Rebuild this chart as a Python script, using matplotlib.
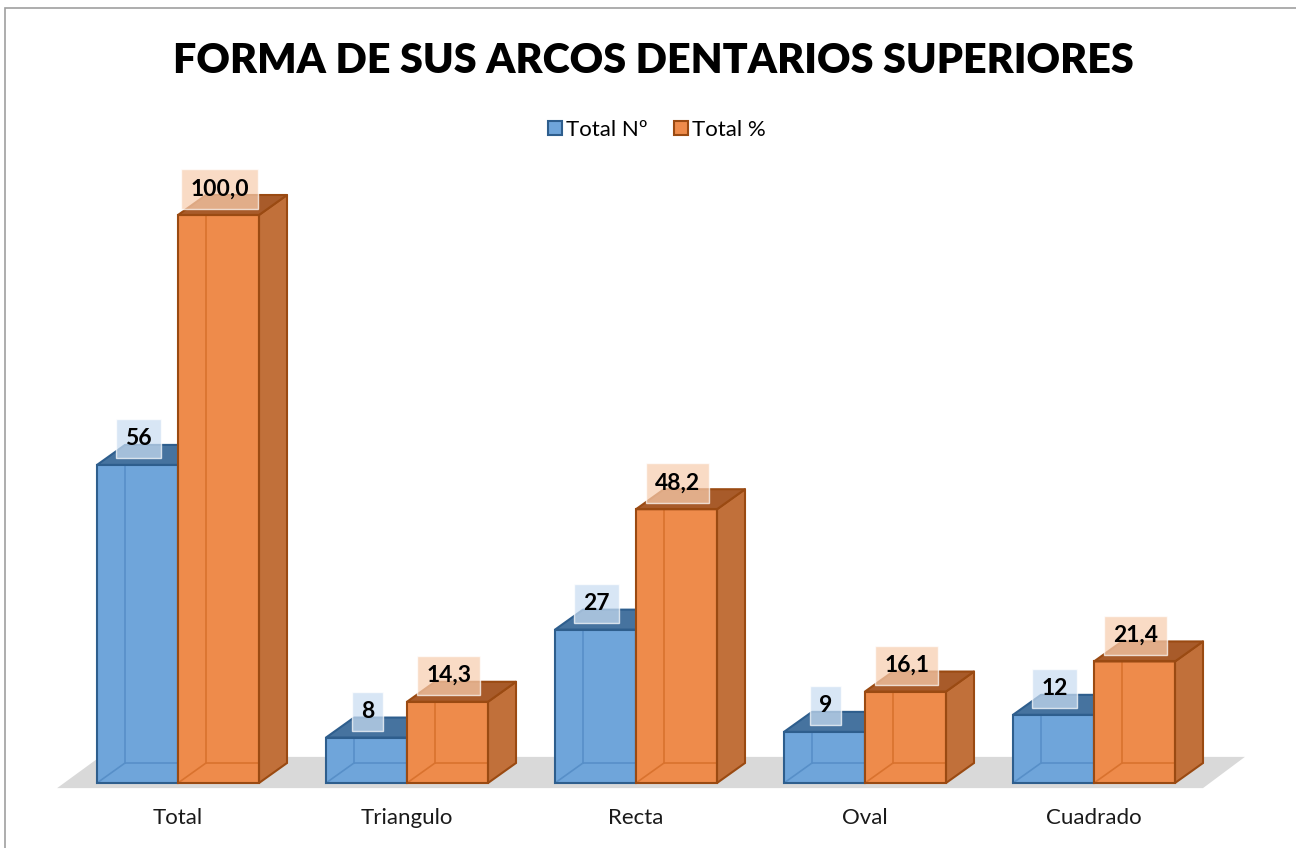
import matplotlib
matplotlib.use("Agg")
import matplotlib.pyplot as plt
from matplotlib.patches import Polygon, Rectangle, Patch
from matplotlib import font_manager as fm

categories = ["Total", "Triangulo", "Recta", "Oval", "Cuadrado"]
total_n = [56, 8, 27, 9, 12]
total_pct = [100.0, 14.3, 48.2, 16.1, 21.4]
series_names = ["Total Nº", "Total %"]
title = "FORMA DE SUS ARCOS DENTARIOS SUPERIORES"

names = {f.name for f in fm.fontManager.ttflist}
body_font = "Lato" if "Lato" in names else "DejaVu Sans"
title_font = body_font

W, H = 1296, 848
fig = plt.figure(figsize=(W / 100, H / 100), dpi=100)
ax = fig.add_axes([0, 0, 1, 1])
# pixel-like mapping: group spacing 229px, 5.68 px per unit
ax.set_xlim((0 - 178) / 229, (W - 178) / 229)
ax.set_ylim((783 - H) / 5.68, 783 / 5.68)
ax.axis("off")

bw = 81 / 229
ddx = 28 / 229
ddy = 20 / 5.68

styles = [
    dict(front="#6FA5DA", top="#46739F", side="#4E7FB0", edge="#2E5E8D", inner="#578FC8", box="#C9DDF2"),
    dict(front="#EE8B4B", top="#A85B2A", side="#C1703A", edge="#9A4A12", inner="#D9722E", box="#F8CDAF"),
]

n = len(categories)
# floor
fl = Polygon([(-0.528, -0.9), (n - 1 + 0.476, -0.9), (n - 1 + 0.659, 4.6), (-0.341, 4.6)],
             closed=True, facecolor="#D9D9D9", edgecolor="none", zorder=1)
ax.add_patch(fl)


def draw_bar(x0, v, st, z):
    x1 = x0 + bw
    front = Rectangle((x0, 0), bw, v, facecolor=st["front"], edgecolor="none", zorder=z)
    ax.add_patch(front)
    # back inner lines (seen through the semi-transparent bar)
    ax.plot([x0 + ddx, x0 + ddx], [ddy, v + ddy], color=st["inner"], lw=1.2, zorder=z + 0.05)
    ax.plot([x0, x0 + ddx, x1 + ddx], [0, ddy, ddy], color=st["inner"], lw=1.2, zorder=z + 0.05)
    top = Polygon([(x0, v), (x1, v), (x1 + ddx, v + ddy), (x0 + ddx, v + ddy)], closed=True,
                  facecolor=st["top"], edgecolor=st["edge"], lw=1.5, zorder=z + 0.1, joinstyle="round")
    side = Polygon([(x1, 0), (x1 + ddx, ddy), (x1 + ddx, v + ddy), (x1, v)], closed=True,
                   facecolor=st["side"], edgecolor=st["edge"], lw=1.5, zorder=z + 0.1, joinstyle="round")
    ax.add_patch(side)
    ax.add_patch(top)
    ax.add_patch(Rectangle((x0, 0), bw, v, facecolor="none", edgecolor=st["edge"], lw=1.5, zorder=z + 0.5))


for i, cat in enumerate(categories):
    vals = [total_n[i], total_pct[i]]
    for s, v in enumerate(vals):
        x0 = i - bw + s * bw
        z = 2 + s
        draw_bar(x0, v, styles[s], z)
    for s, v in enumerate(vals):
        x0 = i - bw + s * bw
        lab = f"{v:d}" if isinstance(v, int) else f"{v:.1f}".replace(".", ",")
        ax.text(x0 + bw / 2 + 0.005, v + 4.6, lab, ha="center", va="center",
                fontsize=16.5, fontweight="bold", family=body_font, color="black", zorder=10,
                bbox=dict(boxstyle="square,pad=0.4", facecolor=styles[s]["box"], alpha=0.72,
                          edgecolor="white", lw=1))
    ax.text(i, -6.2, cat, ha="center", va="center", fontsize=16, family=body_font, color="#1a1a1a")

fig.text(653 / W, 1 - 61 / H, title, ha="center", va="center", fontsize=29.7,
         fontweight="heavy", family=title_font, color="black")

handles = [Patch(facecolor=styles[k]["front"], edgecolor=styles[k]["edge"], lw=1.5) for k in range(2)]
fig.legend(handles, series_names, loc="center", bbox_to_anchor=(657 / W, 1 - 130 / H), ncol=2,
           frameon=False, handlelength=0.62, handleheight=0.62, handletextpad=0.2,
           columnspacing=1.2, prop={"family": body_font, "size": 16})

fig.add_artist(Rectangle((5 / W, -0.1), 1.2, 1 - 8 / H + 0.1, transform=fig.transFigure,
                         facecolor="none", edgecolor="#A0A0A0", lw=1.2))

fig.savefig("out.png", dpi=100)
